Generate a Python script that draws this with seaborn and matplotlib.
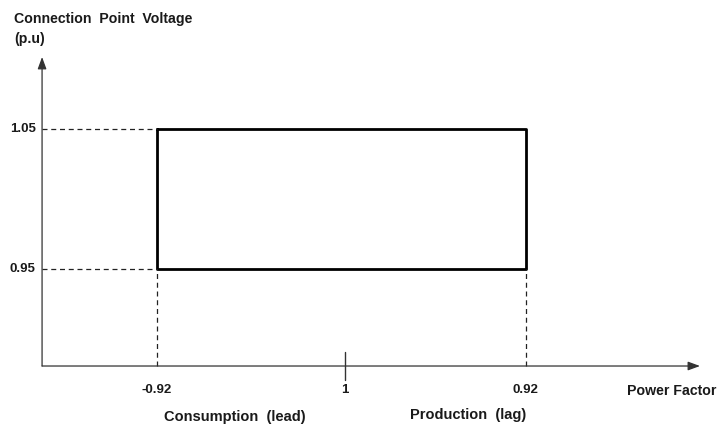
import numpy as np
import pandas as pd
import seaborn as sns
import matplotlib.pyplot as plt

# power factor positions on the x axis (lead side left, lag side right)
pf_labels = ["-0.92", "1", "0.92"]
pf_pos = [-1.02, 0.0, 0.98]

# voltage limits (p.u)
v_labels = ["1.05", "0.95"]
v_values = [1.05, 0.95]

sns.set_theme(style='white')
plt.rcParams['font.family'] = ['Liberation Sans', 'DejaVu Sans']

fig = plt.figure(figsize=(7.2, 4.3), dpi=100)
ax = fig.add_axes([0, 0, 1, 1])
ax.set_xlim(-1.870, 2.0325)
ax.set_ylim(0.835, 1.1421)
ax.axis('off')

x0 = -1.642   # y axis position
y0 = 0.8807   # x axis position
x_end = 1.924
y_end = 1.1014

# axes with arrows
ax.annotate('', xy=(x_end, y0), xytext=(x0, y0),
            arrowprops=dict(arrowstyle='-|>,head_length=0.6,head_width=0.22', color='#333333', lw=0.9, shrinkA=0, shrinkB=0))
ax.annotate('', xy=(x0, y_end), xytext=(x0, y0),
            arrowprops=dict(arrowstyle='-|>,head_length=0.6,head_width=0.22', color='#333333', lw=0.9, shrinkA=0, shrinkB=0))

# operating rectangle
left, right = pf_pos[0], pf_pos[2]
vhi, vlo = v_values
rect = pd.DataFrame({"x": [left, right, right, left, left],
                     "y": [vhi, vhi, vlo, vlo, vhi]})
sns.lineplot(data=rect, x="x", y="y", sort=False, color='black', lw=2.0, ax=ax, estimator=None)

# dashed guides
for v in v_values:
    ax.plot([x0, left], [v, v], ls=(0, (4, 3)), color='#222222', lw=0.9)
for p in [left, right]:
    ax.plot([p, p], [y0, vlo], ls=(0, (4, 3)), color='#222222', lw=0.9)

# tick at pf = 1
ax.plot([pf_pos[1], pf_pos[1]], [y0 - 0.0100, y0 + 0.0100], color='#333333', lw=1.0)

# tick labels
for lab, v in zip(v_labels, v_values):
    ax.text(x0 - 0.035, v, lab, ha='right', va='center', fontsize=9.5, fontweight='bold', color='#1a1a1a')
for lab, p in zip(pf_labels, pf_pos):
    ax.text(p, 0.8636, lab, ha='center', va='center', fontsize=9.5, fontweight='bold', color='#1a1a1a')

ax.text(14 / 720, 1 - 19 / 430, "Connection  Point  Voltage", transform=ax.transAxes,
        ha='left', va='center', fontsize=10.2, fontweight='bold', color='#1a1a1a')
ax.text(14 / 720, 1 - 39 / 430, "(p.u)", transform=ax.transAxes,
        ha='left', va='center', fontsize=10.2, fontweight='bold', color='#1a1a1a')
ax.text(627 / 720, 1 - 391 / 430, "Power Factor", transform=ax.transAxes,
        ha='left', va='center', fontsize=10.2, fontweight='bold', color='#1a1a1a')
ax.text(235 / 720, 1 - 417 / 430, "Consumption  (lead)", transform=ax.transAxes,
        ha='center', va='center', fontsize=10.5, fontweight='bold', color='#1a1a1a')
ax.text(468 / 720, 1 - 415 / 430, "Production  (lag)", transform=ax.transAxes,
        ha='center', va='center', fontsize=10.5, fontweight='bold', color='#1a1a1a')

plt.savefig('out.png', dpi=100)
